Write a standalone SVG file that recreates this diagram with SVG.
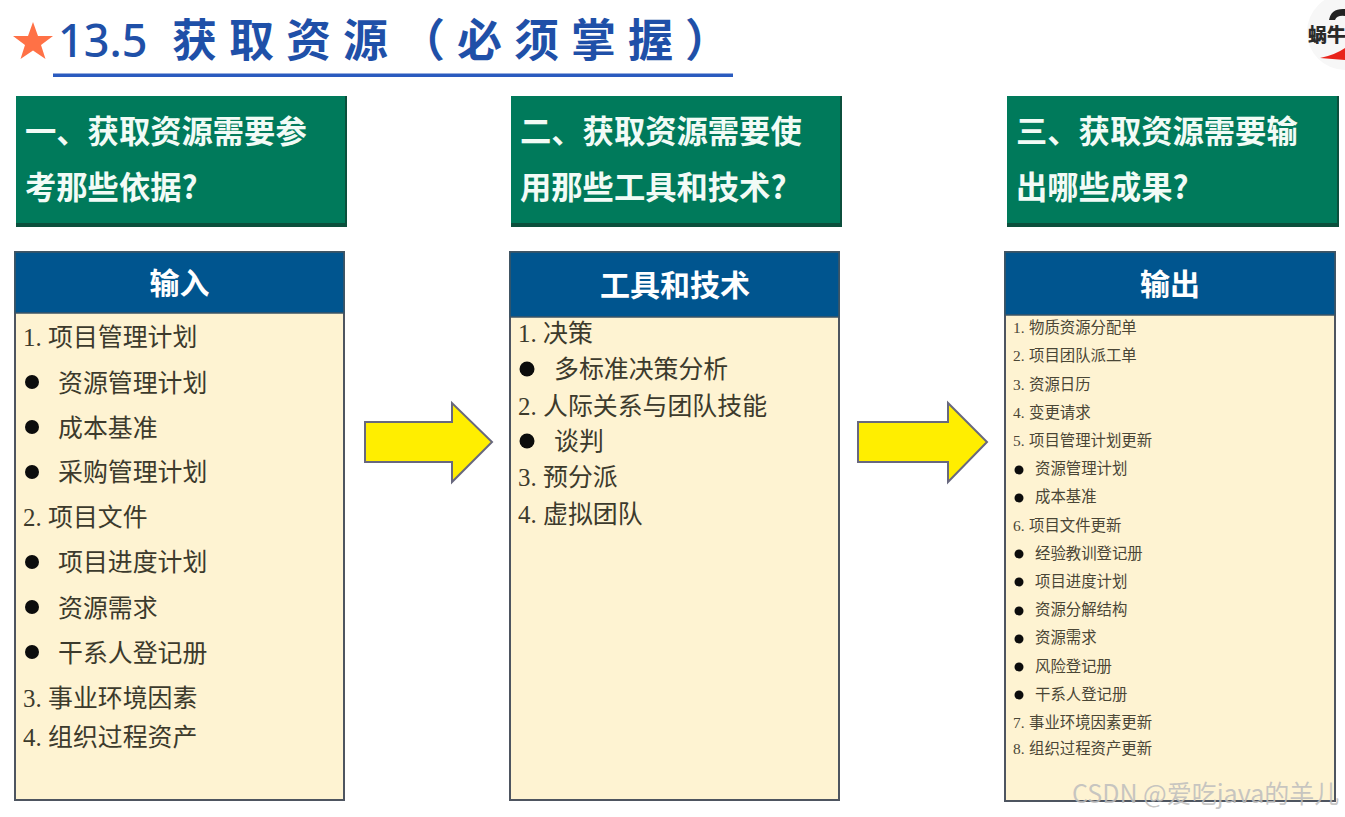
<svg xmlns="http://www.w3.org/2000/svg" width="1345" height="817" viewBox="0 0 1345 817">
<style>
text{font-family:"Noto Sans CJK SC","Noto Sans",sans-serif}
.num{font-family:"Liberation Serif","Noto Sans CJK SC",serif}
.q{font-size:31.3px;font-weight:700;fill:#f2fbf6}
.h{font-size:30px;font-weight:700;fill:#fff;text-anchor:middle}
.b{font-size:24.9px;fill:#3c3a2c}
.s{font-size:15.4px;fill:#4a4636}
.body{fill:#fef3d2;stroke:#4e5560;stroke-width:2}
.head{fill:#00558f;stroke:#3d5566;stroke-width:1.5}
.green{fill:#007a5b}
.edge{fill:#0b4f3c}
.arr{fill:#ffee00;stroke:#68687e;stroke-width:2;stroke-linejoin:miter}
.dot{fill:#0c0c0c}
</style>
<rect width="1345" height="817" fill="#fff"/>
<g id="title">
<polygon points="33,22 38,36 53,36 41,45 45.500,59 33,50.500 20.500,59 25,45 13,36 28,36" fill="#ff7146"/>
<text x="58" y="57" font-size="45" font-weight="500" fill="#1f50a8" style="font-family:'Noto Sans','Noto Sans CJK SC',sans-serif">13.5</text>
<text x="172" y="57" font-size="45" letter-spacing="12" font-weight="700" fill="#1f50a8">获取资源（必须掌握）</text>
<rect x="53" y="73.500" width="680" height="3.500" fill="#2a5bbf"/>
</g>
<g id="logo">
<circle cx="1345" cy="32" r="38" fill="#f7f7f7"/>
<path d="M1329,20 Q1331,8 1345,9 L1345,16 Q1337,15 1335,20Z" fill="#222"/>
<path d="M1320,58 Q1335,55 1345,48 L1345,60 Z" fill="#e8231a"/>
<text x="1308" y="42" font-size="19" font-weight="900" fill="#2a2a2a">蜗牛</text>
</g>
<g id="q1">
<rect class="green" x="16" y="96" width="331" height="131"/><rect class="edge" x="16" y="223" width="331" height="4"/><rect class="edge" x="345" y="96" width="2" height="131"/>
<text class="q" x="25" y="143">一、获取资源需要参</text><text class="q" x="25" y="199">考那些依据?</text>
</g>
<g id="q2">
<rect class="green" x="511" y="96" width="331" height="131"/><rect class="edge" x="511" y="223" width="331" height="4"/><rect class="edge" x="840" y="96" width="2" height="131"/>
<text class="q" x="520" y="143">二、获取资源需要使</text><text class="q" x="520" y="199">用那些工具和技术?</text>
</g>
<g id="q3">
<rect class="green" x="1007" y="96" width="332" height="131"/><rect class="edge" x="1007" y="223" width="332" height="4"/><rect class="edge" x="1337" y="96" width="2" height="131"/>
<text class="q" x="1016" y="143">三、获取资源需要输</text><text class="q" x="1016" y="199">出哪些成果?</text>
</g>
<g id="input">
<rect class="body" x="15" y="252" width="329" height="548"/>
<rect class="head" x="15" y="252" width="329" height="61"/>
<text class="h" x="179.500" y="294">输入</text>
<text class="b" x="23" y="346"><tspan class="num">1.</tspan><tspan x="48">项目管理计划</tspan></text>
<circle class="dot" cx="32" cy="382" r="7"/><text class="b" x="58" y="392">资源管理计划</text>
<circle class="dot" cx="32" cy="427" r="7"/><text class="b" x="58" y="437">成本基准</text>
<circle class="dot" cx="32" cy="472" r="7"/><text class="b" x="58" y="481">采购管理计划</text>
<text class="b" x="23" y="526"><tspan class="num">2.</tspan><tspan x="48">项目文件</tspan></text>
<circle class="dot" cx="32" cy="562" r="7"/><text class="b" x="58" y="571">项目进度计划</text>
<circle class="dot" cx="32" cy="607" r="7"/><text class="b" x="58" y="617">资源需求</text>
<circle class="dot" cx="32" cy="652" r="7"/><text class="b" x="58" y="662">干系人登记册</text>
<text class="b" x="23" y="707"><tspan class="num">3.</tspan><tspan x="48">事业环境因素</tspan></text>
<text class="b" x="23" y="746"><tspan class="num">4.</tspan><tspan x="48">组织过程资产</tspan></text>
</g>
<g id="tools">
<rect class="body" x="510" y="252" width="329" height="548"/>
<rect class="head" x="510" y="252" width="329" height="65"/>
<text class="h" x="675" y="296">工具和技术</text>
<text class="b" x="518" y="342"><tspan class="num">1.</tspan><tspan x="543">决策</tspan></text>
<circle class="dot" cx="527" cy="369" r="7.500"/><text class="b" x="554" y="378">多标准决策分析</text>
<text class="b" x="518" y="415"><tspan class="num">2.</tspan><tspan x="543">人际关系与团队技能</tspan></text>
<circle class="dot" cx="527" cy="441" r="7.500"/><text class="b" x="554" y="450">谈判</text>
<text class="b" x="518" y="486"><tspan class="num">3.</tspan><tspan x="543">预分派</tspan></text>
<text class="b" x="518" y="523"><tspan class="num">4.</tspan><tspan x="543">虚拟团队</tspan></text>
</g>
<g id="output">
<rect class="body" x="1005" y="252" width="330" height="549"/>
<rect class="head" x="1005" y="252" width="330" height="63"/>
<text class="h" x="1170" y="295">输出</text>
<text class="s" x="1013" y="333"><tspan class="num">1.</tspan><tspan x="1029">物质资源分配单</tspan></text>
<text class="s" x="1013" y="361"><tspan class="num">2.</tspan><tspan x="1029">项目团队派工单</tspan></text>
<text class="s" x="1013" y="390"><tspan class="num">3.</tspan><tspan x="1029">资源日历</tspan></text>
<text class="s" x="1013" y="418"><tspan class="num">4.</tspan><tspan x="1029">变更请求</tspan></text>
<text class="s" x="1013" y="446"><tspan class="num">5.</tspan><tspan x="1029">项目管理计划更新</tspan></text>
<circle class="dot" cx="1019" cy="470" r="4.500"/><text class="s" x="1035" y="474">资源管理计划</text>
<circle class="dot" cx="1019" cy="498" r="4.500"/><text class="s" x="1035" y="502">成本基准</text>
<text class="s" x="1013" y="531"><tspan class="num">6.</tspan><tspan x="1029">项目文件更新</tspan></text>
<circle class="dot" cx="1019" cy="554" r="4.500"/><text class="s" x="1035" y="559">经验教训登记册</text>
<circle class="dot" cx="1019" cy="582" r="4.500"/><text class="s" x="1035" y="587">项目进度计划</text>
<circle class="dot" cx="1019" cy="611" r="4.500"/><text class="s" x="1035" y="615">资源分解结构</text>
<circle class="dot" cx="1019" cy="639" r="4.500"/><text class="s" x="1035" y="643">资源需求</text>
<circle class="dot" cx="1019" cy="667" r="4.500"/><text class="s" x="1035" y="672">风险登记册</text>
<circle class="dot" cx="1019" cy="695" r="4.500"/><text class="s" x="1035" y="700">干系人登记册</text>
<text class="s" x="1013" y="728"><tspan class="num">7.</tspan><tspan x="1029">事业环境因素更新</tspan></text>
<text class="s" x="1013" y="754"><tspan class="num">8.</tspan><tspan x="1029">组织过程资产更新</tspan></text>
</g>
<g id="connectors">
<polygon class="arr" points="365,422 452,422 452,403 492,442 452,482 452,462 365,462"/>
<polygon class="arr" points="858,422 948,422 948,403 987,442 948,482 948,462 858,462"/>
</g>
<g id="watermark">
<text x="1072" y="803" font-size="25" fill="#bdbdbd" fill-opacity="0.85">CSDN @爱吃java的羊儿</text>
</g>
</svg>
